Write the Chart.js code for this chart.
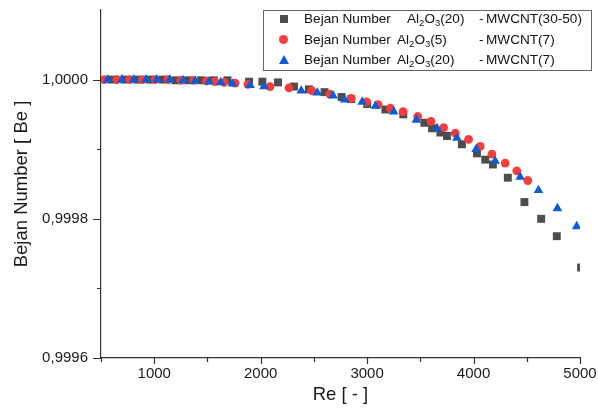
<!DOCTYPE html>
<html>
<head>
<meta charset="utf-8">
<script src="https://cdn.jsdelivr.net/npm/chart.js@4.4.1/dist/chart.umd.min.js"></script>
<style>
  html, body { margin: 0; padding: 0; background: #fff; }
  #wrap { position: relative; width: 598px; height: 415px; }
  #legend {
    position: absolute; left: 263px; top: 10px; width: 329px; height: 61px;
    border: 1px solid #666; background: #fff; box-sizing: border-box;
    font-family: 'Liberation Sans', Arial, sans-serif; font-size: 13.6px; color: #111;
  }
  .row { position: absolute; left: 0; width: 100%; height: 20px; line-height: 20px; white-space: pre; }
  .row span { position: absolute; top: 0; }
  .mk { position: absolute; }
  sub { font-size: 0.7em; vertical-align: -0.3em; line-height: 0; }
</style>
</head>
<body>
<div id="wrap">
  <canvas id="chart" width="598" height="415"></canvas>
  <div id="legend"></div>
</div>
<script>
// gray squares: Al2O3(20) - MWCNT(30-50)
const reSquare = [600, 720, 840, 960, 1080, 1200, 1320, 1440, 1560, 1688, 1891, 2016, 2163, 2313, 2453,
  2600, 2760, 2850, 3000, 3172, 3340, 3538, 3610, 3688, 3750, 3891, 4032, 4110, 4182, 4322, 4478, 4635, 4782, 5010];
const beSquare = [1.0000, 1.0000, 1.0000, 1.0000, 1.0000, 0.999999, 0.999999, 0.999999, 0.999999, 0.999999,
  0.999997, 0.999997, 0.999996, 0.99999, 0.999986, 0.999982, 0.999975, 0.999972, 0.999965, 0.999957, 0.99995,
  0.999938, 0.99993, 0.999924, 0.999919, 0.999907, 0.999894, 0.999885, 0.999878, 0.999859, 0.999824, 0.9998,
  0.999775, 0.99973];

// red circles: Al2O3(5) - MWCNT(7)
const reCircle = [530, 650, 770, 890, 1010, 1130, 1250, 1370, 1490, 1570, 1656, 1760, 1880, 2088, 2266, 2480,
  2650, 2851, 2994, 3104, 3219, 3338, 3475, 3600, 3719, 3828, 3953, 4063, 4172, 4297, 4406, 4510];
const beCircle = [1.0000, 1.0000, 1.0000, 1.0000, 1.0000, 1.0000, 0.999999, 0.999999, 0.999998, 0.999997,
  0.999996, 0.999995, 0.999993, 0.99999, 0.999988, 0.999984, 0.999979, 0.999973, 0.999968, 0.999964,
  0.999959, 0.999954, 0.999947, 0.99994, 0.999931, 0.999923, 0.999914, 0.999904, 0.999893, 0.99988,
  0.999869, 0.999855];

// blue triangles: Al2O3(20) - MWCNT(7)
const reTriangle = [563, 697, 807, 922, 1025, 1147, 1272, 1384, 1516, 1625, 1735, 1900, 2031, 2381, 2532,
  2680, 2790, 2954, 3078, 3250, 3463, 3657, 3844, 4025, 4203, 4438, 4610, 4788, 4969];
const beTriangle = [1.0000, 1.0000, 1.0000, 1.0000, 1.0000, 1.0000, 0.999999, 0.999998, 0.999997, 0.999996,
  0.999994, 0.999992, 0.99999, 0.999984, 0.999981, 0.999977, 0.999971, 0.999968, 0.999962, 0.999954,
  0.999942, 0.99993, 0.999916, 0.9999, 0.999883, 0.99986, 0.999841, 0.999815, 0.999789];

const seriesLabels = ['Bejan Number  Al₂O₃(20) - MWCNT(30-50)', 'Bejan Number Al₂O₃(5) - MWCNT(7)', 'Bejan Number Al₂O₃(20) - MWCNT(7)'];
const legendFluid = ['Al<sub>2</sub>O<sub>3</sub>(20)', 'Al<sub>2</sub>O<sub>3</sub>(5)', 'Al<sub>2</sub>O<sub>3</sub>(20)'];
const legendCnt = ['MWCNT(30-50)', 'MWCNT(7)', 'MWCNT(7)'];

const xMajorTicks = [1000, 2000, 3000, 4000, 5000];
const xMinorTicks = [500, 1500, 2500, 3500, 4500];
const yMajorTicks = [0.9996, 0.9998, 1.0000];
const yMinorTicks = [0.9997, 0.9999];

const FONT = "'Liberation Sans', Arial, sans-serif";
const TEXT = '#1a1a1a';
const AXIS = '#333';

function pts(xs, ys) {
    return xs.map((x, i) => ({ x: x, y: ys[i] }));
}

// short outside tick marks, major and minor
const axisTicks = {
    id: 'axisTicks',
    afterDraw(chart) {
        const ctx = chart.ctx;
        const a = chart.chartArea;
        const sx = chart.scales.x, sy = chart.scales.y;
        ctx.save();
        ctx.strokeStyle = AXIS;
        ctx.lineWidth = 1.2;
        ctx.beginPath();
        xMajorTicks.forEach(v => { const p = Math.round(sx.getPixelForValue(v)) + 0.5; ctx.moveTo(p, a.bottom); ctx.lineTo(p, a.bottom + 6); });
        xMinorTicks.forEach(v => { const p = Math.round(sx.getPixelForValue(v)) + 0.5; ctx.moveTo(p, a.bottom); ctx.lineTo(p, a.bottom + 4); });
        yMajorTicks.forEach(v => { const p = Math.round(sy.getPixelForValue(v)) + 0.5; ctx.moveTo(a.left, p); ctx.lineTo(a.left - 8, p); });
        yMinorTicks.forEach(v => { const p = Math.round(sy.getPixelForValue(v)) + 0.5; ctx.moveTo(a.left, p); ctx.lineTo(a.left - 4, p); });
        ctx.stroke();
        ctx.restore();
    }
};

const chart = new Chart(document.getElementById('chart').getContext('2d'), {
    type: 'scatter',
    data: {
        datasets: [{
            label: seriesLabels[0],
            data: pts(reSquare, beSquare),
            pointStyle: 'rect',
            pointRadius: 5.6,
            backgroundColor: '#4d4d4d',
            borderColor: '#4d4d4d',
            pointBorderWidth: 0,
            order: 2,
            clip: 0
        }, {
            label: seriesLabels[1],
            data: pts(reCircle, beCircle),
            pointStyle: 'circle',
            pointRadius: 4.4,
            backgroundColor: '#f53d3d',
            borderColor: '#f53d3d',
            pointBorderWidth: 0,
            order: 1,
            clip: 0
        }, {
            label: seriesLabels[2],
            data: pts(reTriangle, beTriangle),
            pointStyle: 'triangle',
            pointRadius: 5.6,
            backgroundColor: '#0b5cd5',
            borderColor: '#0b5cd5',
            pointBorderWidth: 0,
            order: 0,
            clip: 0
        }]
    },
    options: {
        responsive: false,
        animation: false,
        layout: { padding: { left: 0, right: 18, top: 10, bottom: 0 } },
        plugins: {
            legend: { display: false },
            tooltip: { enabled: false }
        },
        scales: {
            x: {
                type: 'linear',
                min: 500,
                max: 5000,
                afterBuildTicks: s => { s.ticks = xMajorTicks.map(v => ({ value: v })); },
                afterFit: s => { s.height = 57; s.paddingLeft = 0; s.paddingRight = 0; },
                grid: { display: false, drawTicks: false },
                border: { display: true, color: AXIS, width: 1.2 },
                ticks: { color: TEXT, font: { family: FONT, size: 15 }, padding: 7, maxRotation: 0, callback: v => String(v) },
                title: { display: true, text: 'Re [ - ]', color: TEXT, font: { family: FONT, size: 18.5 }, padding: { top: 0, bottom: 9 } }
            },
            y: {
                type: 'linear',
                min: 0.9996,
                max: 1.0001,
                afterBuildTicks: s => { s.ticks = yMajorTicks.map(v => ({ value: v })); },
                afterFit: s => { s.width = 101; s.paddingTop = 0; s.paddingBottom = 0; },
                grid: { display: false, drawTicks: false },
                border: { display: true, color: AXIS, width: 1.2 },
                ticks: {
                    color: TEXT,
                    font: { family: FONT, size: 15 },
                    padding: 13,
                    callback: v => v.toFixed(4).replace('.', ',')
                },
                title: { display: true, text: 'Bejan Number [ Be ]', color: TEXT, font: { family: FONT, size: 18.5 }, padding: { top: 11, bottom: 0 } }
            }
        }
    },
    plugins: [axisTicks]
});

// legend box with real subscripts, built from the datasets
const legendEl = document.getElementById('legend');
const rowTops = [-2, 19, 39];
const fluidLeft = [143, 133, 133];
chart.data.datasets.forEach((ds, i) => {
    const row = document.createElement('div');
    row.className = 'row';
    row.style.top = rowTops[i] + 'px';
    let marker;
    if (ds.pointStyle === 'rect') {
        marker = '<div class="mk" style="left:16px;top:6px;width:8px;height:8px;background:' + ds.backgroundColor + '"></div>';
    } else if (ds.pointStyle === 'circle') {
        marker = '<div class="mk" style="left:15px;top:5px;width:9px;height:9px;border-radius:50%;background:' + ds.backgroundColor + '"></div>';
    } else {
        marker = '<div class="mk" style="left:15px;top:5px;width:0;height:0;border-left:5px solid transparent;border-right:5px solid transparent;border-bottom:9px solid ' + ds.backgroundColor + '"></div>';
    }
    row.innerHTML = marker +
        '<span style="left:40px">Bejan Number</span>' +
        '<span style="left:' + fluidLeft[i] + 'px">' + legendFluid[i] + '</span>' +
        '<span style="left:215px">-</span>' +
        '<span style="left:222px">' + legendCnt[i] + '</span>';
    legendEl.appendChild(row);
});
</script>
</body>
</html>
